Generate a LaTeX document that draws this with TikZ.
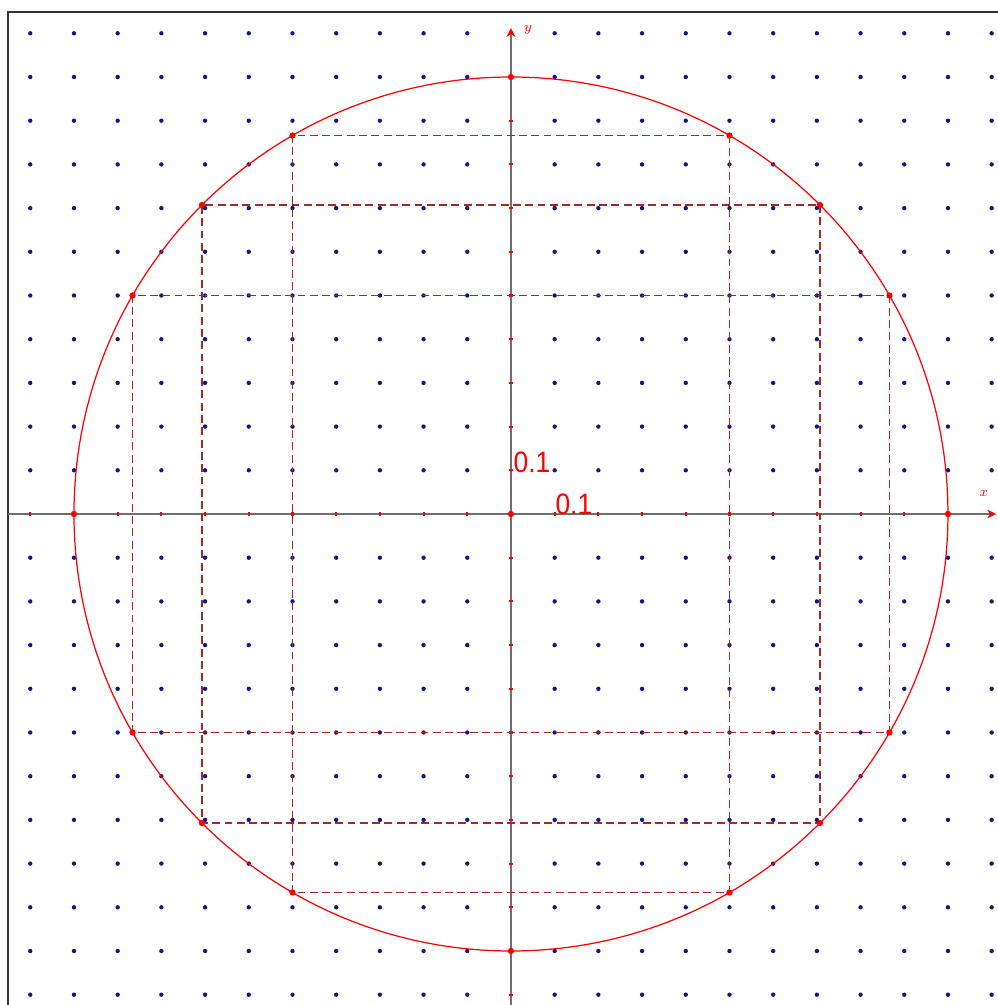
\documentclass[tikz,border=0pt]{standalone}
\usepackage{fontspec}
\setsansfont{Liberation Sans}
\usetikzlibrary{arrows.meta}
\definecolor{gridblue}{RGB}{20,20,130}
\definecolor{axisgray}{RGB}{110,110,110}
\definecolor{dashred}{RGB}{165,40,40}

\begin{document}
\begin{tikzpicture}[x=0.874cm, y=0.874cm, >=Stealth,
  frame/.style={draw=black!80, line width=1.1pt},
  axis/.style={draw=axisgray, line width=0.8pt},
  tick/.style={draw=red, line width=1.2pt},
  rect/.style={draw=dashred, line width=1pt, dash pattern=on 4.5pt off 2.5pt},
  pt/.style={fill=red},
  unitlbl/.style={text=red, font=\sffamily\fontsize{15}{17}\selectfont, inner sep=0pt, yscale=1.12}]
  \useasboundingbox (-11.693,-11.236) rectangle (11.144,11.762);
  \draw[frame] (-11.51,-11.236) -- (-11.51,11.487) -- (11.144,11.487);
  % grid of dots
  \foreach \i in {-11,...,11} {
    \foreach \j in {-11,...,11} {
      \ifnum\i=0 \else \ifnum\j=0 \else
        \fill[gridblue] (\i,\j) circle (1.25pt);
      \fi\fi
    }
  }
  % axes
  \coordinate (O) at (0,0);
  \draw[axis, -{Stealth[red, length=5pt, width=5pt]}] (-11.51,0) -- (11.1,0);
  \draw[axis, -{Stealth[red, length=5pt, width=5pt]}] (0,-11.236) -- (0,11.12);
  \foreach \k in {-11,...,11} {
    \draw[tick] (\k,-0.055) -- (\k,0.055);
    \draw[tick] (-0.055,\k) -- (0.055,\k);
  }
  \node[text=red, font=\footnotesize] (lbly) at (0.39,11.08) {$y$};
  \node[text=red, font=\footnotesize] (lblx) at (10.82,0.46) {$x$};
  \node[unitlbl] (unity) at (0.48,1.19) {0.1};
  \node[unitlbl] (unitx) at (1.44,0.21) {0.1};
  % circle and rectangles
  \draw[red, line width=0.7pt] (O) circle (10);
  \foreach \a in {30,45,60}
    \draw[rect] ({10*cos(\a)},{10*sin(\a)}) rectangle ({-10*cos(\a)},{-10*sin(\a)});
  \foreach \a in {0,30,45,60,90,120,135,150,180,210,225,240,270,300,315,330}
    \fill[pt] ({10*cos(\a)},{10*sin(\a)}) circle (1.8pt);
  \fill[pt] (O) circle (1.8pt);
\end{tikzpicture}
\end{document}
